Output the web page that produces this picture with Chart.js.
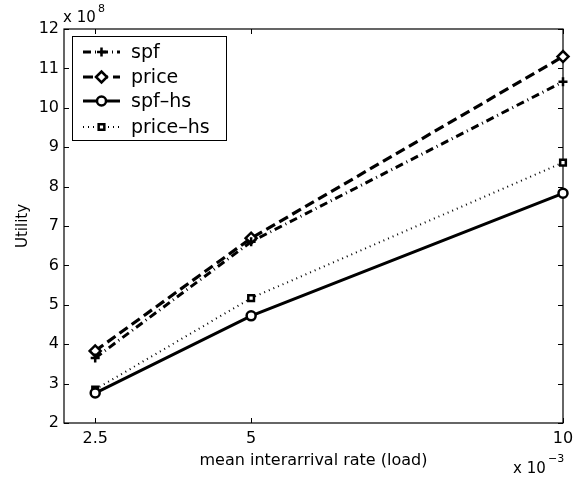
<!DOCTYPE html>
<html><head><meta charset="utf-8">
<script src="https://cdn.jsdelivr.net/npm/chart.js@4"></script>
<style>html,body{margin:0;padding:0;background:#fff}#wrap{width:581px;height:480px;position:relative}</style>
</head><body><div id="wrap"><canvas id="c" width="581" height="480"></canvas></div>
<script>
const loads = [0.0025, 0.005, 0.01];
const xTickValues = [0.0025, 0.005, 0.01];
const spf = [3.65e8, 6.60e8, 10.66e8];
const price = [3.83e8, 6.69e8, 11.30e8];
const spfHs = [2.76e8, 4.72e8, 7.83e8];
const priceHs = [2.85e8, 5.17e8, 8.61e8];
const seriesNames = ['spf', 'price', 'spf\u2013hs', 'price\u2013hs'];
const xTitle = 'mean interarrival rate (load)';
const yTitle = 'Utility';

const FONT = "'DejaVu Sans', sans-serif";
const styles = [
  {dash: [8, 4, 1, 4], width: 3, point: 'cross', r: 4.5},
  {dash: [10, 5], width: 3.2, point: 'rectRot', r: 5.5},
  {dash: [], width: 3, point: 'circle', r: 4.5},
  {dash: [1, 4], width: 2, point: 'rect', r: 4}
];
const seriesData = [spf, price, spfHs, priceHs];

const datasets = seriesData.map((vals, i) => ({
  label: seriesNames[i],
  data: loads.map((x, j) => ({x: x, y: vals[j]})),
  borderColor: '#000',
  borderWidth: styles[i].width,
  borderDash: styles[i].dash,
  pointStyle: styles[i].point,
  pointRadius: styles[i].r,
  pointBorderWidth: 2.5,
  pointBorderColor: '#000',
  pointBackgroundColor: '#fff',
  fill: false,
  tension: 0,
  clip: false
}));

function drawMarker(ctx, style, x, y, r) {
  ctx.save();
  ctx.setLineDash([]);
  ctx.lineWidth = 2.5;
  ctx.strokeStyle = '#000';
  ctx.fillStyle = '#fff';
  ctx.beginPath();
  if (style === 'circle') {
    ctx.arc(x, y, r, 0, Math.PI * 2);
    ctx.fill(); ctx.stroke();
  } else if (style === 'rect') {
    const s = Math.SQRT1_2 * r;
    ctx.rect(x - s, y - s, 2 * s, 2 * s);
    ctx.fill(); ctx.stroke();
  } else if (style === 'rectRot') {
    ctx.moveTo(x - r, y); ctx.lineTo(x, y - r); ctx.lineTo(x + r, y); ctx.lineTo(x, y + r); ctx.closePath();
    ctx.fill(); ctx.stroke();
  } else if (style === 'cross') {
    ctx.moveTo(x - r, y); ctx.lineTo(x + r, y); ctx.moveTo(x, y - r); ctx.lineTo(x, y + r);
    ctx.stroke();
  }
  ctx.restore();
}

const framePlugin = {
  id: 'frame',
  beforeDatasetsDraw(chart) {
    const {ctx, chartArea: a, scales} = chart;
    ctx.save();
    ctx.strokeStyle = '#000';
    ctx.lineWidth = 1.2;
    ctx.strokeRect(a.left, a.top, a.right - a.left, a.bottom - a.top);
    const tl = 5;
    ctx.beginPath();
    scales.y.ticks.forEach(t => {
      const py = Math.round(scales.y.getPixelForValue(t.value)) + 0.5;
      ctx.moveTo(a.left, py); ctx.lineTo(a.left + tl, py);
      ctx.moveTo(a.right, py); ctx.lineTo(a.right - tl, py);
    });
    scales.x.ticks.forEach(t => {
      const px = Math.round(scales.x.getPixelForValue(t.value)) + 0.5;
      ctx.moveTo(px, a.bottom); ctx.lineTo(px, a.bottom - tl);
      ctx.moveTo(px, a.top); ctx.lineTo(px, a.top + tl);
    });
    ctx.lineWidth = 1;
    ctx.stroke();
    // exponent labels
    ctx.fillStyle = '#000';
    ctx.textBaseline = 'alphabetic';
    ctx.textAlign = 'left';
    ctx.font = '15px ' + FONT;
    ctx.fillText('x 10', a.left - 1, 22);
    ctx.font = '11px ' + FONT;
    ctx.fillText('8', a.left + 34, 12);
    ctx.font = '15px ' + FONT;
    ctx.fillText('x 10', 513, 473);
    ctx.font = '11px ' + FONT;
    ctx.fillText('\u22123', 548, 462);
    ctx.restore();
  },
  afterDatasetsDraw(chart) {
    const {ctx} = chart;
    ctx.save();
    const bx = 72, by = 36, bw = 154, bh = 104;
    ctx.fillStyle = '#fff';
    ctx.fillRect(bx, by, bw, bh);
    ctx.strokeStyle = '#000';
    ctx.lineWidth = 1;
    ctx.strokeRect(bx + 0.5, by + 0.5, bw, bh);
    const rows = [52, 77, 101, 127];
    ctx.font = '19px ' + FONT;
    ctx.textBaseline = 'middle';
    ctx.textAlign = 'left';
    seriesNames.forEach((name, i) => {
      const y = rows[i];
      ctx.save();
      ctx.strokeStyle = '#000';
      ctx.lineWidth = styles[i].width;
      ctx.setLineDash(styles[i].dash);
      ctx.beginPath();
      ctx.moveTo(83, y); ctx.lineTo(120, y);
      ctx.stroke();
      ctx.restore();
      drawMarker(ctx, styles[i].point, 101.5, y, styles[i].r);
      ctx.fillStyle = '#000';
      ctx.fillText(name, 131, y + 1);
    });
    ctx.restore();
  }
};

new Chart(document.getElementById('c'), {
  type: 'line',
  data: {datasets: datasets},
  options: {
    responsive: false,
    animation: false,
    devicePixelRatio: 1,
    layout: {padding: {left: 0, right: 18, top: 29, bottom: 0}},
    plugins: {legend: {display: false}, tooltip: {enabled: false}},
    scales: {
      x: {
        type: 'linear',
        min: 0.002, max: 0.01,
        afterBuildTicks: s => { s.ticks = xTickValues.map(v => ({value: v})); },
        afterFit: s => { s.height = 57; },
        grid: {display: false, drawTicks: false},
        border: {display: false},
        ticks: {
          color: '#000', padding: 6, maxRotation: 0, autoSkip: false,
          font: {family: FONT, size: 16},
          callback: v => String(Math.round(v * 10000) / 10)
        },
        title: {display: true, text: xTitle, color: '#000', font: {family: FONT, size: 16}, padding: {top: 0, bottom: 10}}
      },
      y: {
        type: 'linear',
        min: 2e8, max: 12e8,
        afterFit: s => { s.width = 64; },
        grid: {display: false, drawTicks: false},
        border: {display: false},
        ticks: {
          stepSize: 1e8, color: '#000', padding: 5,
          font: {family: FONT, size: 16},
          callback: v => String(Math.round(v / 1e8))
        },
        title: {display: true, text: yTitle, color: '#000', font: {family: FONT, size: 15}, padding: {top: 14, bottom: 0}}
      }
    }
  },
  plugins: [framePlugin]
});
</script>
</body></html>
